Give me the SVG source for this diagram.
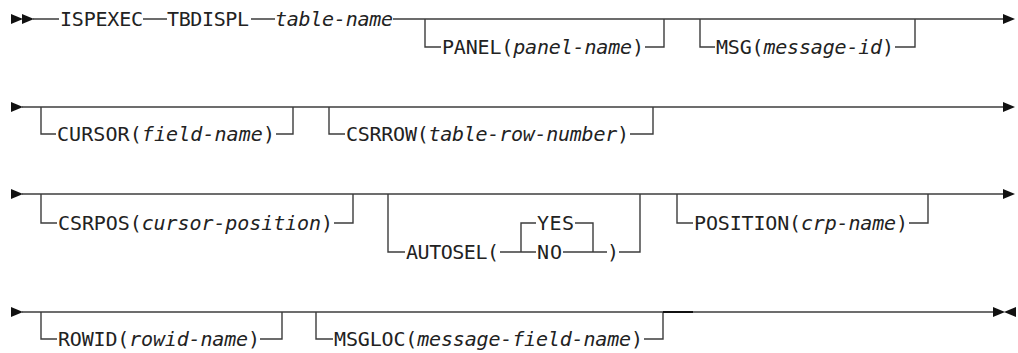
<svg xmlns="http://www.w3.org/2000/svg" width="1018" height="353" viewBox="0 0 1018 353">
<style>
.c{fill:none;stroke:#3c3c3c;stroke-width:1.4}
.t{font-family:"DejaVu Sans Mono","Liberation Mono",monospace;font-size:20px;fill:#222}
.i{font-style:italic}
.a{fill:#111}
</style>
<defs>
<polygon id="ar" class="a" points="0,-5 12,0 0,5"/>
<polygon id="al" class="a" points="12,-5 0,0 12,5"/>
</defs>
<g id="connectors">
<path class="c" d="M33 19H59M143 19H167M251 19H275M393 19H1004"/>
<path class="c" d="M425 19V47H441M645 47H664V19"/>
<path class="c" d="M700 19V47H715M895 47H915V19"/>
<path class="c" d="M22 107H1004"/>
<path class="c" d="M41 107V134H56M276 134H293V107"/>
<path class="c" d="M329 107V134H345M630 134H653V107"/>
<path class="c" d="M22 194H1004"/>
<path class="c" d="M41 194V223H57M334 223H353V194"/>
<path class="c" d="M388 194V252H405M500 252H536M521 252V223H536M575 223H593V252M563 252H607M619 252H640V194"/>
<path class="c" d="M677 194V223H693M909 223H928V194"/>
<path class="c" d="M22 312H993"/>
<path class="c" d="M41 312V339H57M260 339H282V312"/>
<path class="c" d="M316 312V339H333M644 339H663V312"/>
<path d="M663 312H693" stroke="#111" stroke-width="2" fill="none"/>
<use href="#ar" x="11" y="19"/><use href="#ar" x="22" y="19"/><use href="#ar" x="1003" y="19"/>
<use href="#ar" x="11" y="107"/><use href="#ar" x="1003" y="107"/>
<use href="#ar" x="11" y="194"/><use href="#ar" x="1003" y="194"/>
<use href="#ar" x="11" y="312"/><use href="#ar" x="993" y="312"/><use href="#al" x="1004" y="312"/>
</g>
<g id="n-ispexec"><text class="t" x="60" y="26" textLength="83">ISPEXEC</text></g>
<g id="n-tbdispl"><text class="t" x="167" y="26" textLength="82">TBDISPL</text></g>
<g id="n-table-name"><text class="t i" x="275" y="26" textLength="118">table-name</text></g>
<g id="n-panel"><text class="t" x="442" y="54" textLength="202">PANEL(<tspan class="i">panel-name</tspan>)</text></g>
<g id="n-msg"><text class="t" x="716" y="54" textLength="178">MSG(<tspan class="i">message-id</tspan>)</text></g>
<g id="n-cursor"><text class="t" x="57" y="141" textLength="218">CURSOR(<tspan class="i">field-name</tspan>)</text></g>
<g id="n-csrrow"><text class="t" x="346" y="141" textLength="283">CSRROW(<tspan class="i">table-row-number</tspan>)</text></g>
<g id="n-csrpos"><text class="t" x="58" y="230" textLength="275">CSRPOS(<tspan class="i">cursor-position</tspan>)</text></g>
<g id="n-autosel"><text class="t" x="406" y="259" textLength="93">AUTOSEL(</text></g>
<g id="n-yes"><text class="t" x="537" y="230" textLength="37">YES</text></g>
<g id="n-no"><text class="t" x="537" y="259" textLength="25">NO</text></g>
<g id="n-autosel-close"><text class="t" x="607" y="259">)</text></g>
<g id="n-position"><text class="t" x="694" y="230" textLength="214">POSITION(<tspan class="i">crp-name</tspan>)</text></g>
<g id="n-rowid"><text class="t" x="58" y="346" textLength="202">ROWID(<tspan class="i">rowid-name</tspan>)</text></g>
<g id="n-msgloc"><text class="t" x="334" y="346" textLength="309">MSGLOC(<tspan class="i">message-field-name</tspan>)</text></g>
</svg>
